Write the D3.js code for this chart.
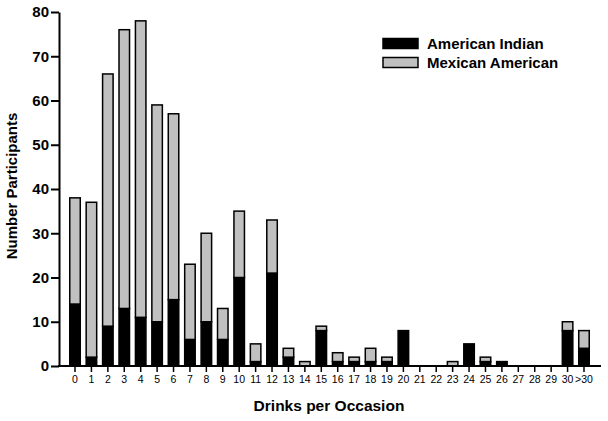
<!DOCTYPE html>
<html>
<head>
<meta charset="utf-8">
<script src="https://cdn.jsdelivr.net/npm/d3@7"></script>
<style>
  body { margin: 0; background: #fff; }
  text { font-family: "Liberation Sans", Arial, sans-serif; }
</style>
</head>
<body>
<script>
// drinks per occasion categories
var categories = ["0","1","2","3","4","5","6","7","8","9","10","11","12","13","14","15",
                  "16","17","18","19","20","21","22","23","24","25","26","27","28","29","30",">30"];
var americanIndian  = [14, 2, 9, 13, 11, 10, 15, 6, 10, 6, 20, 1, 21, 2, 0, 8,
                       1, 1, 1, 1, 8, 0, 0, 0, 5, 1, 1, 0, 0, 0, 8, 4];
var mexicanAmerican = [24, 35, 57, 63, 67, 49, 42, 17, 20, 7, 15, 4, 12, 2, 1, 1,
                       2, 1, 3, 1, 0, 0, 0, 1, 0, 1, 0, 0, 0, 0, 2, 4];
var yTicks = [0, 10, 20, 30, 40, 50, 60, 70, 80];
var seriesNames = ["American Indian", "Mexican American"];
var seriesColors = ["#000000", "#c0c0c0"];

var width = 608, height = 421;

var svg = d3.select("body").append("svg")
    .attr("width", width)
    .attr("height", height);

var x = d3.scaleBand()
    .domain(categories)
    .range([66.8, 592.2])
    .paddingInner(0.36)
    .paddingOuter(0.18);

var y = d3.scaleLinear()
    .domain([0, 80])
    .range([366, 12]);

var data = categories.map(function (c, i) {
    return { cat: c, ai: americanIndian[i], ma: mexicanAmerican[i] };
});

var stack = d3.stack().keys(["ai", "ma"])(data);

// bars
var groups = svg.selectAll(".layer")
    .data(stack)
    .enter()
    .append("g")
    .attr("class", "layer")
    .style("fill", function (d, i) { return seriesColors[i]; });

groups.selectAll("rect")
    .data(function (d) { return d.filter(function (p) { return p[1] - p[0] > 0; }); })
    .enter()
    .append("rect")
    .attr("x", function (d) { return x(d.data.cat); })
    .attr("y", function (d) { return y(d[1]); })
    .attr("width", x.bandwidth())
    .attr("height", function (d) { return y(d[0]) - y(d[1]); })
    .style("stroke", "#000")
    .style("stroke-width", 1.5);

// y axis
var yAxis = svg.append("g")
    .attr("transform", "translate(59,0)")
    .call(d3.axisLeft(y).tickValues(yTicks).tickSize(8).tickPadding(2).tickSizeOuter(0));
yAxis.select(".domain").attr("stroke-width", 2);
yAxis.selectAll(".tick line").attr("stroke-width", 2);
yAxis.selectAll("text")
    .style("font-size", "15px")
    .style("font-weight", "bold")
    .style("fill", "#000");

// x axis
var xAxis = svg.append("g")
    .attr("transform", "translate(0,366)")
    .call(d3.axisBottom(x).tickSize(6).tickPadding(4).tickSizeOuter(0));
xAxis.select(".domain").attr("d", "M58,0H601").attr("stroke-width", 2);
xAxis.selectAll(".tick line").attr("stroke-width", 1.5);
xAxis.selectAll("text")
    .style("font-size", "10.5px")
    .style("fill", "#000");

// axis titles
svg.append("text")
    .attr("x", 329)
    .attr("y", 411)
    .attr("text-anchor", "middle")
    .style("font-size", "15.5px")
    .style("font-weight", "bold")
    .text("Drinks per Occasion");

svg.append("text")
    .attr("transform", "translate(17,186) rotate(-90)")
    .attr("text-anchor", "middle")
    .style("font-size", "15px")
    .style("font-weight", "bold")
    .text("Number Participants");

// legend
var legend = svg.selectAll(".legend")
    .data(seriesNames)
    .enter()
    .append("g")
    .attr("class", "legend")
    .attr("transform", function (d, i) { return "translate(383," + (38.5 + i * 19) + ")"; });

legend.append("rect")
    .attr("width", 35)
    .attr("height", 10)
    .style("fill", function (d, i) { return seriesColors[i]; })
    .style("stroke", "#000")
    .style("stroke-width", 1.5);

legend.append("text")
    .attr("x", 44)
    .attr("y", 10.5)
    .style("font-size", "15px")
    .style("font-weight", "bold")
    .text(function (d) { return d; });
</script>
</body>
</html>
